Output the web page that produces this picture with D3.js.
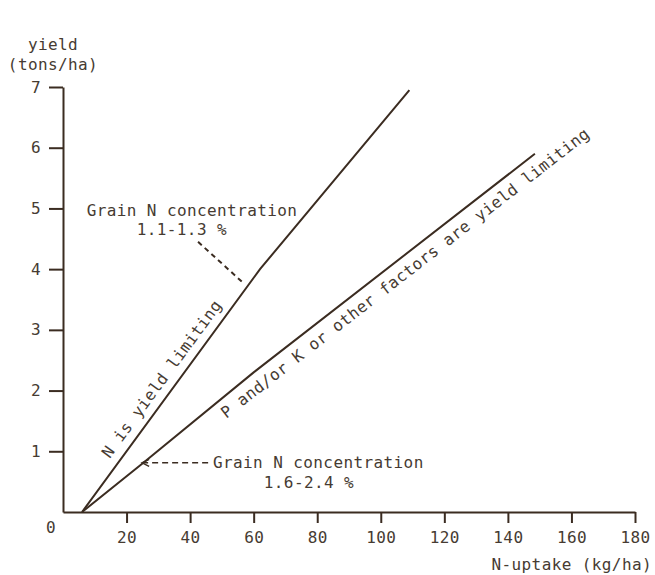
<!DOCTYPE html>
<html>
<head>
<meta charset="utf-8">
<script src="https://cdn.jsdelivr.net/npm/d3@7"></script>
<style>
  body { margin: 0; background: #fff; }
  text { font-family: "DejaVu Sans Mono", monospace; font-size: 16px; fill: #463b32; letter-spacing: 0.4px; }
</style>
</head>
<body>
<div id="chart"></div>
<script>
// data
var xTicks = [20, 40, 60, 80, 100, 120, 140, 160, 180];
var yTicks = [1, 2, 3, 4, 5, 6, 7];

// N is yield limiting (steep line)
var nLimitX = [6, 62, 109];
var nLimitY = [0, 4, 6.95];

// P and/or K or other factors limiting (flatter line)
var pkLimitX = [6, 25, 60, 148.5];
var pkLimitY = [0, 0.8, 2.3, 5.9];

var nLabel = "N is yield limiting";
var pkLabel = "P and/or K or other factors are yield limiting";
var grainHigh = ["Grain N concentration", "1.1-1.3 %"];
var grainLow = ["Grain N concentration", "1.6-2.4 %"];

var svgWidth = 655
var svgHeight = 575
var ink = "#3b2c21"

var svg = d3.select('#chart')
    .append('svg')
    .attr('width', svgWidth)
    .attr('height', svgHeight)

var x = d3.scaleLinear().domain([0, 180]).range([63, 635])
var y = d3.scaleLinear().domain([0, 7]).range([512, 87])

// axes
var xAxis = d3.axisBottom(x).tickValues(xTicks).tickFormat(d3.format('d'))
    .tickSize(11).tickSizeOuter(0).tickPadding(9)
var yAxis = d3.axisLeft(y).tickValues(yTicks).tickFormat(d3.format('d'))
    .tickSize(14).tickSizeOuter(0).tickPadding(8)

var gx = svg.append('g').attr('transform', 'translate(0,' + y(0) + ')').call(xAxis)
var gy = svg.append('g').attr('transform', 'translate(' + x(0) + ',0)').call(yAxis)

;[gx, gy].forEach(function(g) {
    g.select('.domain').attr('stroke', ink).attr('stroke-width', 2)
    g.selectAll('.tick line').attr('stroke', ink).attr('stroke-width', 2)
    g.selectAll('.tick text')
        .attr('fill', '#463b32')
        .style('font-family', '"DejaVu Sans Mono", monospace')
        .style('font-size', '16px')
})

// origin label
svg.append('text')
    .attr('x', x(0) - 12)
    .attr('y', y(0) + 21)
    .attr('text-anchor', 'middle')
    .text('0')

// axis titles
svg.append('text').attr('x', x(0) - 10).attr('y', 50).attr('text-anchor', 'middle').text('yield')
svg.append('text').attr('x', x(0) - 10).attr('y', 70).attr('text-anchor', 'middle').text('(tons/ha)')
svg.append('text').attr('x', 652).attr('y', 570).attr('text-anchor', 'end').text('N-uptake (kg/ha)')

// lines
var line = d3.line()
    .x(function(d) { return x(d[0]) })
    .y(function(d) { return y(d[1]) })

var nPoints = nLimitX.map(function(v, i) { return [v, nLimitY[i]] })
var pkPoints = pkLimitX.map(function(v, i) { return [v, pkLimitY[i]] })

svg.selectAll('path.curve')
    .data([nPoints, pkPoints])
    .enter()
    .append('path')
    .attr('class', 'curve')
    .attr('d', line)
    .attr('fill', 'none')
    .attr('stroke', ink)
    .attr('stroke-width', 2)

// text along a segment of a line
function alongLine(pts, seg, xStart, offset, label) {
    var a = pts[seg], b = pts[seg + 1]
    var t = (xStart - a[0]) / (b[0] - a[0])
    var px = x(xStart)
    var py = y(a[1] + t * (b[1] - a[1]))
    var ang = Math.atan2(y(b[1]) - y(a[1]), x(b[0]) - x(a[0])) * 180 / Math.PI
    svg.append('text')
        .attr('transform', 'translate(' + px + ',' + py + ') rotate(' + ang + ')')
        .attr('dy', offset)
        .text(label)
}

alongLine(nPoints, 0, 17, -9, nLabel)
alongLine(pkPoints, 2, 47.5, 20, pkLabel)

// annotation: upper grain N concentration
svg.append('text').attr('x', x(40.6)).attr('y', y(4.88)).attr('text-anchor', 'middle').text(grainHigh[0])
svg.append('text').attr('x', x(37.4)).attr('y', y(4.56)).attr('text-anchor', 'middle').text(grainHigh[1])
svg.append('line')
    .attr('x1', x(42.5)).attr('y1', y(4.45))
    .attr('x2', x(57)).attr('y2', y(3.76))
    .attr('stroke', ink).attr('stroke-width', 2)
    .attr('stroke-dasharray', '5,4')

// annotation: lower grain N concentration, dashed leader with arrow head
var ax = x(24.9), ay = y(0.81)
svg.append('line')
    .attr('x1', ax).attr('y1', ay)
    .attr('x2', x(46.3)).attr('y2', ay)
    .attr('stroke', ink).attr('stroke-width', 1.5)
    .attr('stroke-dasharray', '6,4')
svg.append('path')
    .attr('d', 'M' + (ax + 7) + ',' + (ay - 3.5) + ' L' + ax + ',' + ay + ' L' + (ax + 7) + ',' + (ay + 3.5))
    .attr('fill', 'none')
    .attr('stroke', ink)
    .attr('stroke-width', 1.5)

svg.append('text').attr('x', x(47.2)).attr('y', y(0.725)).text(grainLow[0])
svg.append('text').attr('x', x(77.4)).attr('y', y(0.395)).attr('text-anchor', 'middle').text(grainLow[1])
</script>
</body>
</html>
